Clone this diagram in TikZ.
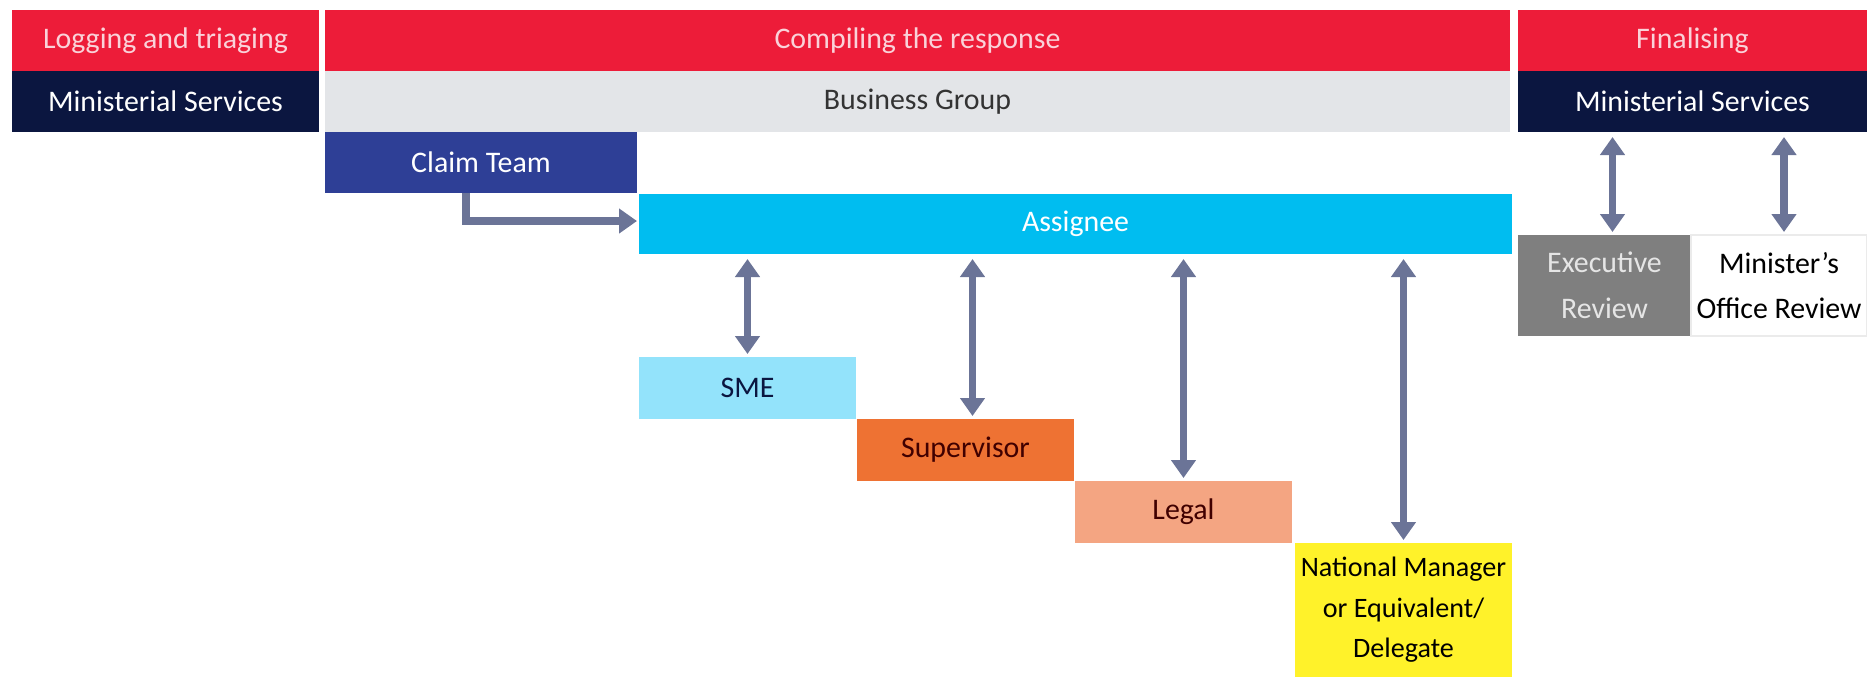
\documentclass[tikz,border=0pt]{standalone}
\usepackage{fontspec}
\setmainfont{Carlito}
\usetikzlibrary{arrows.meta}

\definecolor{cred}{HTML}{ED1C39}
\definecolor{cpink}{HTML}{FAD2D9}
\definecolor{cnavy}{HTML}{0B1640}
\definecolor{cgrey}{HTML}{E3E5E8}
\definecolor{cclaim}{HTML}{2E3F96}
\definecolor{ccyan}{HTML}{00BDF0}
\definecolor{clcyan}{HTML}{93E3FB}
\definecolor{corange}{HTML}{EE7233}
\definecolor{csalmon}{HTML}{F4A582}
\definecolor{cyellow}{HTML}{FFF22A}
\definecolor{cexec}{HTML}{7F7F7F}
\definecolor{carrow}{HTML}{6B7497}

\begin{document}
\begin{tikzpicture}[
    every node/.style = {inner sep=0pt, outer sep=0pt, anchor=north west,
    align=center, font=\fontsize{8.5}{13}\selectfont},
    phase/.style={fill=cred, text=cpink, minimum height=0.61cm},
    owner/.style={fill=cnavy, text=white, minimum height=0.61cm},
    task/.style={minimum height=0.62cm, minimum width=2.17cm},
    flow/.style={draw=carrow, line width=2.2pt, -{Triangle[width=0.24cm,length=0.18cm]}},
    both/.style={flow, {Triangle[width=0.24cm,length=0.18cm]}-{Triangle[width=0.24cm,length=0.18cm]},
    shorten <=0.05cm, shorten >=0.03cm}]
    \useasboundingbox (0,0) rectangle (18.67,-6.77);
    % headers
    \node[phase, minimum width=3.07cm] (log) at (0.12,-0.10) {Logging and triaging};
    \node[phase, minimum width=11.85cm] (comp) at (3.25,-0.10) {Compiling the response};
    \node[phase, minimum width=3.49cm] (fin) at (15.18,-0.10) {Finalising};
    \node[owner, minimum width=3.07cm] (msl) at (0.12,-0.71) {Ministerial Services};
    \node[owner, fill=cgrey, text=black!80, minimum width=11.85cm] (bus) at (3.25,-0.71) {Business Group};
    \node[owner, minimum width=3.49cm] (msr) at (15.18,-0.71) {Ministerial Services};
    % compiling
    \node[owner, fill=cclaim, minimum width=3.12cm] (claim) at (3.25,-1.32) {Claim Team};
    \node[owner, fill=ccyan, minimum height=0.60cm, minimum width=8.73cm] (assign) at (6.39,-1.94) {Assignee};
    \node[task, fill=clcyan, text=cnavy] (sme) at (6.39,-3.57) {SME};
    \node[task, fill=corange, text=black!75!red] (sup) at (8.57,-4.19) {Supervisor};
    \node[task, fill=csalmon, text=black!75!red] (legal) at (10.75,-4.81) {Legal};
    \node[task, fill=cyellow, text=black, minimum height=1.34cm,
        font=\fontsize{8}{11.5}\selectfont] (nat) at (12.95,-5.43)
        {National Manager\\or Equivalent/\\Delegate};
    % finalising
    \node[task, fill=cexec, text=black!10, minimum width=1.73cm, minimum height=1.01cm] (exec) at (15.18,-2.35)
        {Executive\\Review};
    \node[task, draw=black!8, fill=white, minimum width=1.76cm, minimum height=1.01cm] (mor) at (16.91,-2.35)
        {Minister's\\Office Review};
    % arrows
    \draw[flow] ([xshift=-0.15cm]claim.south) |- ([yshift=0.03cm,xshift=-0.02cm]assign.west);
    \draw[both] (sme.north |- assign.south) -- (sme.north);
    \draw[both] ([xshift=0.07cm]sup.north |- assign.south) -- ([xshift=0.07cm]sup.north);
    \draw[both] (legal.north |- assign.south) -- (legal.north);
    \draw[both] (nat.north |- assign.south) -- (nat.north);
    \draw[both] ([xshift=0.08cm]exec.north |- msr.south) -- ([xshift=0.08cm]exec.north);
    \draw[both] ([xshift=0.05cm]mor.north |- msr.south) -- ([xshift=0.05cm]mor.north);
\end{tikzpicture}
\end{document}
